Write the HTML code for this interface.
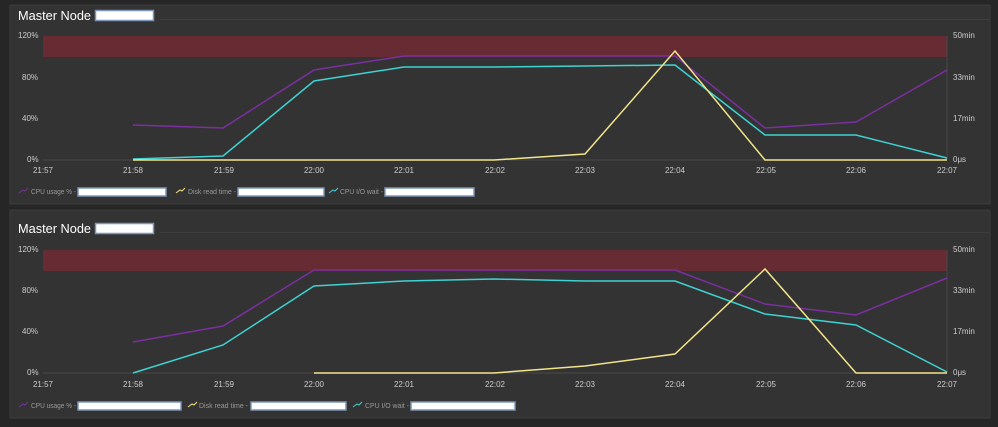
<!DOCTYPE html>
<html><head><meta charset="utf-8"><style>
body{margin:0;background:#262626;width:998px;height:422px;overflow:hidden}
text{font-family:"Liberation Sans",sans-serif}
</style></head><body>
<svg width="998" height="422" xmlns="http://www.w3.org/2000/svg">
<!-- Panel 1 -->
<rect x="10" y="5" width="980" height="199" fill="#333333" stroke="#3c3c3c"/>
<text x="18" y="20" fill="#fff" font-size="13" textLength="73" lengthAdjust="spacingAndGlyphs">Master Node</text>
<rect x="95.5" y="10.5" width="58" height="10" fill="#fff" stroke="#7d95b8" stroke-width="1.5"/>
<line x1="160" y1="19.5" x2="990" y2="19.5" stroke="#3e3e3e"/>
<rect x="43" y="36" width="904" height="21" fill="#662b33"/>
<line x1="43" y1="160" x2="947" y2="160" stroke="#4a4a4a"/>
<line x1="947" y1="36" x2="947" y2="160" stroke="#4a4a4a"/>
<g fill="#ccc" font-size="8">
<text x="18" y="38">120%</text><text x="22" y="80">80%</text><text x="22" y="121">40%</text><text x="27" y="162">0%</text>
<text x="953" y="38">50min</text><text x="953" y="80">33min</text><text x="953" y="121">17min</text><text x="953" y="162">0μs</text>
</g>
<g fill="#ccc" font-size="8" text-anchor="middle">
<text x="43" y="173">21:57</text><text x="133" y="173">21:58</text><text x="224" y="173">21:59</text><text x="314" y="173">22:00</text><text x="404" y="173">22:01</text><text x="495" y="173">22:02</text><text x="585" y="173">22:03</text><text x="675" y="173">22:04</text><text x="766" y="173">22:05</text><text x="856" y="173">22:06</text><text x="947" y="173">22:07</text>
</g>
<g fill="none" stroke-width="1.5">
<polyline stroke="#7b2fa0" points="133,125 223,128 314,70 404,56 675,56 765,128 856,122 947,70"/>
<polyline stroke="#3ed2d2" points="133,159 223,156 314,81 404,67 494,67 585,66 675,65 765,135 856,135 947,158"/>
<polyline stroke="#f2e48a" points="133,160 494,160 585,154 675,51 765,160 947,160"/>
</g>
<g font-size="7.5" fill="#999">
<path d="M19 193l4-3 2 1 3-3" stroke="#7b2fa0" fill="none"/><text x="31" y="194" textLength="45" lengthAdjust="spacingAndGlyphs">CPU usage % -</text>
<rect x="78" y="188" width="88" height="8" fill="#fff" stroke="#7d95b8" stroke-width="1.5"/>
<path d="M176 193l4-3 2 1 3-3" stroke="#f2e48a" fill="none"/><text x="188" y="194" textLength="48" lengthAdjust="spacingAndGlyphs">Disk read time -</text>
<rect x="238" y="188" width="86" height="8" fill="#fff" stroke="#7d95b8" stroke-width="1.5"/>
<path d="M329 193l4-3 2 1 3-3" stroke="#3ed2d2" fill="none"/><text x="340" y="194" textLength="43" lengthAdjust="spacingAndGlyphs">CPU I/O wait -</text>
<rect x="385" y="188" width="89" height="8" fill="#fff" stroke="#7d95b8" stroke-width="1.5"/>
</g>
<!-- Panel 2 -->
<rect x="10" y="210" width="980" height="208" fill="#333333" stroke="#3c3c3c"/>
<text x="18" y="233" fill="#fff" font-size="13" textLength="73" lengthAdjust="spacingAndGlyphs">Master Node</text>
<rect x="95.5" y="223.5" width="58" height="10" fill="#fff" stroke="#7d95b8" stroke-width="1.5"/>
<line x1="160" y1="232.5" x2="990" y2="232.5" stroke="#3e3e3e"/>
<rect x="43" y="250" width="904" height="21" fill="#662b33"/>
<line x1="43" y1="373" x2="947" y2="373" stroke="#4a4a4a"/>
<line x1="947" y1="250" x2="947" y2="373" stroke="#4a4a4a"/>
<g fill="#ccc" font-size="8">
<text x="18" y="252">120%</text><text x="22" y="293">80%</text><text x="22" y="334">40%</text><text x="27" y="375">0%</text>
<text x="953" y="252">50min</text><text x="953" y="293">33min</text><text x="953" y="334">17min</text><text x="953" y="375">0μs</text>
</g>
<g fill="#ccc" font-size="8" text-anchor="middle">
<text x="43" y="387">21:57</text><text x="133" y="387">21:58</text><text x="224" y="387">21:59</text><text x="314" y="387">22:00</text><text x="404" y="387">22:01</text><text x="495" y="387">22:02</text><text x="585" y="387">22:03</text><text x="675" y="387">22:04</text><text x="766" y="387">22:05</text><text x="856" y="387">22:06</text><text x="947" y="387">22:07</text>
</g>
<g fill="none" stroke-width="1.5">
<polyline stroke="#7b2fa0" points="133,342 223,326 314,270 675,270 765,304 856,315 947,278"/>
<polyline stroke="#3ed2d2" points="133,373 223,345 314,286 404,281 494,279 585,281 675,281 765,314 856,325 947,372"/>
<polyline stroke="#f2e48a" points="314,373 494,373 585,366 675,354 765,269 856,373 947,373"/>
</g>
<g font-size="7.5" fill="#999">
<path d="M19 407l4-3 2 1 3-3" stroke="#7b2fa0" fill="none"/><text x="31" y="408" textLength="45" lengthAdjust="spacingAndGlyphs">CPU usage % -</text>
<rect x="78" y="402" width="103" height="8" fill="#fff" stroke="#7d95b8" stroke-width="1.5"/>
<path d="M188 407l4-3 2 1 3-3" stroke="#f2e48a" fill="none"/><text x="199" y="408" textLength="49" lengthAdjust="spacingAndGlyphs">Disk read time -</text>
<rect x="251" y="402" width="95" height="8" fill="#fff" stroke="#7d95b8" stroke-width="1.5"/>
<path d="M353 407l4-3 2 1 3-3" stroke="#3ed2d2" fill="none"/><text x="365" y="408" textLength="44" lengthAdjust="spacingAndGlyphs">CPU I/O wait -</text>
<rect x="411" y="402" width="104" height="8" fill="#fff" stroke="#7d95b8" stroke-width="1.5"/>
</g>
</svg>
</body></html>
